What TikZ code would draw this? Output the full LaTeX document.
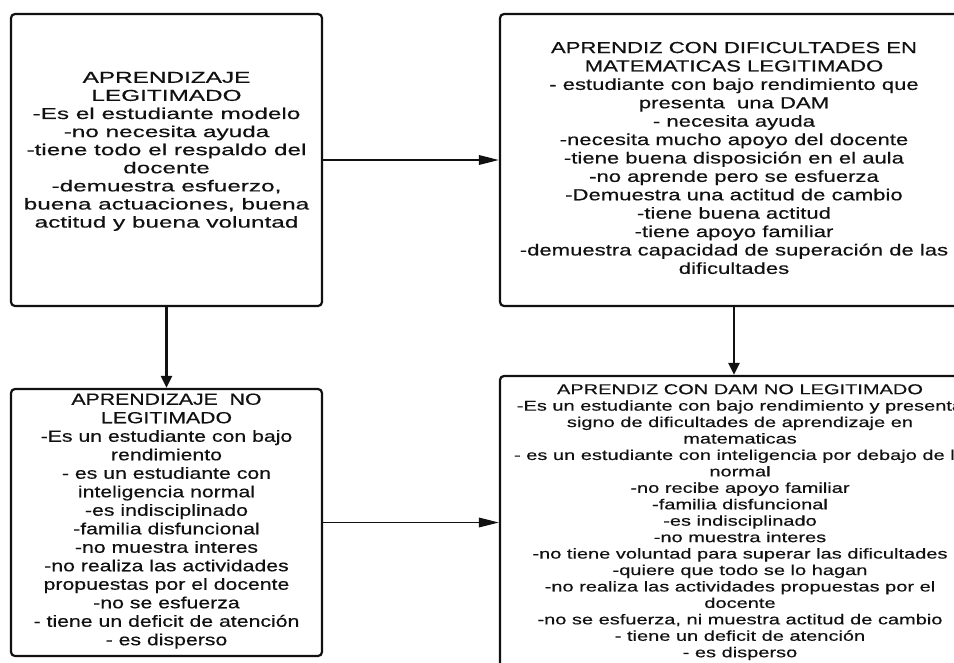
\documentclass[tikz,border=0pt]{standalone}
\usepackage{fontspec}
\usetikzlibrary{arrows.meta}
% widened sans faces, one per box
\newfontfamily\fTL[FakeStretch=1.54,FakeBold=0.4]{Liberation Sans}
\newfontfamily\fTR[FakeStretch=1.38,FakeBold=0.4]{Liberation Sans}
\newfontfamily\fBL[FakeStretch=1.32,FakeBold=0.4]{Liberation Sans}
\newfontfamily\fBR[FakeStretch=1.40,FakeBold=0.4]{Liberation Sans}
\definecolor{ink}{HTML}{111111}
\begin{document}
\begin{tikzpicture}[x=1pt,y=-1pt,
  card/.style={draw=ink, line width=2.2pt, rounded corners=4pt, fill=white, inner sep=0pt},
  cardtext/.style={anchor=north, align=center, inner sep=0pt, text=ink},
  hlink/.style={draw=ink, line width=1.8pt, -{Triangle[length=20pt,width=9.5pt]}},
  vlink/.style={draw=ink, line width=2.4pt, -{Triangle[length=12pt,width=11pt]}}]
\useasboundingbox (0,0) rectangle (954,662);
\clip (0,0) rectangle (954,662);
\fill[white] (0,0) rectangle (954,662);

% boxes
\node[card, minimum width=311pt, minimum height=292pt] (tl) at (166.5,160) {};
\node[card, minimum width=468pt, minimum height=292pt] (tr) at (734,160) {};
\node[card, minimum width=311pt, minimum height=267pt] (bl) at (166.5,522.5) {};
\node[card, minimum width=480pt, minimum height=314pt] (br) at (740,533) {};

% texts
\node[cardtext, font=\fTL\fontsize{15.8}{18.1}\selectfont] (tltext) at (166.5,71.7) {%
APRENDIZAJE\\
LEGITIMADO\\
-Es el estudiante modelo\\
-no necesita ayuda\\
-tiene todo el respaldo del\\
docente\\
-demuestra esfuerzo,\\
buena actuaciones, buena\\
actitud y buena voluntad};

\node[cardtext, font=\fTR\fontsize{16}{18.4}\selectfont] (trtext) at (734,41.7) {%
APRENDIZ CON DIFICULTADES EN\\
MATEMATICAS LEGITIMADO\\
- estudiante con bajo rendimiento que\\
presenta\ \ una DAM\\
- necesita ayuda\\
-necesita mucho apoyo del docente\\
-tiene buena disposición en el aula\\
-no aprende pero se esfuerza\\
-Demuestra una actitud de cambio\\
-tiene buena actitud\\
-tiene apoyo familiar\\
-demuestra capacidad de superación de las\\
dificultades};

\node[cardtext, font=\fBL\fontsize{16.1}{18.5}\selectfont] (bltext) at (166.5,393.3) {%
APRENDIZAJE\ \ NO\\
LEGITIMADO\\
-Es un estudiante con bajo\\
rendimiento\\
- es un estudiante con\\
inteligencia normal\\
-es indisciplinado\\
-familia disfuncional\\
-no muestra interes\\
-no realiza las actividades\\
propuestas por el docente\\
-no se esfuerza\\
- tiene un deficit de atención\\
- es disperso};

\node[cardtext, font=\fBR\fontsize{14.3}{16.44}\selectfont] (brtext) at (740,384) {%
APRENDIZ CON DAM NO LEGITIMADO\\
-Es un estudiante con bajo rendimiento y presenta\\
signo de dificultades de aprendizaje en\\
matematicas\\
- es un estudiante con inteligencia por debajo de la\\
normal\\
-no recibe apoyo familiar\\
-familia disfuncional\\
-es indisciplinado\\
-no muestra interes\\
-no tiene voluntad para superar las dificultades\\
-quiere que todo se lo hagan\\
-no realiza las actividades propuestas por el\\
docente\\
-no se esfuerza, ni muestra actitud de cambio\\
- tiene un deficit de atención\\
- es disperso};

% connectors
\draw[hlink] (tl.east) -- (tr.west);
\draw[hlink] (bl.east) -- (bl.east -| br.west);
\draw[vlink] (tl.south) -- (bl.north);
\draw[vlink] (tr.south) -- (tr.south |- br.north);
\end{tikzpicture}
\end{document}
